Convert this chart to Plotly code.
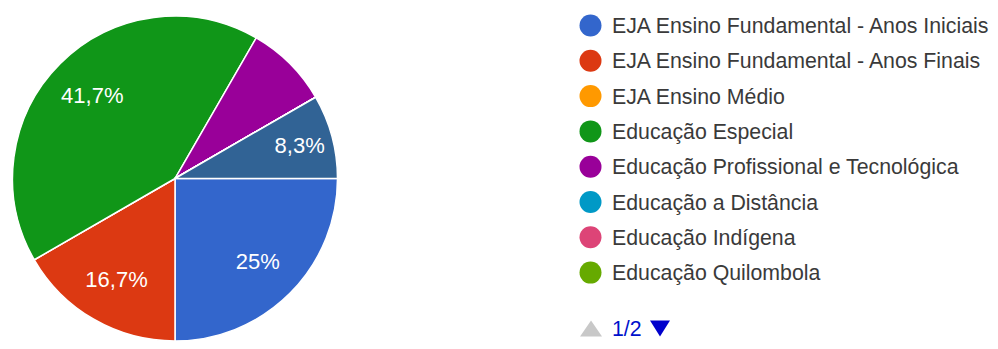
import plotly.graph_objects as go

# ---- data ----
categories = [
    "EJA Ensino Fundamental - Anos Iniciais",
    "EJA Ensino Fundamental - Anos Finais",
    "EJA Ensino Médio",
    "Educação Especial",
    "Educação Profissional e Tecnológica",
    "Educação a Distância",
    "Educação Indígena",
    "Educação Quilombola",
    "Educação do Campo",
    "Outros",
]
counts = [3, 2, 0, 5, 1, 0, 0, 0, 0, 1]
colors = ["#3366cc", "#dc3912", "#ff9900", "#109618", "#990099",
          "#0099c6", "#dd4477", "#66aa00", "#b82e2e", "#316395"]
hidden_label = [False, False, False, False, True, False, False, False, False, False]
legend_page = categories[:8]
pager_text = "1/2"

# the page body has an 8px margin; keep the figure inside the 998x349 window
OFF = 8
W, H = 998 - 2 * OFF, 349 - 2 * OFF
total = sum(counts)
FONT = "Liberation Sans, Arial, sans-serif"


def px(x):
    return (x - OFF) / W


def py(y):
    return 1 - (y - OFF) / H


def fmt(v):
    p = round(v / total * 100, 1)
    s = f"{p:.1f}"
    if s.endswith(".0"):
        s = s[:-2]
    return s.replace(".", ",") + "%"


texts = ["" if (c == 0 or h) else fmt(c) for c, h in zip(counts, hidden_label)]

pcx, pcy, R = 175, 178.5, 162.5
dom = dict(x=[px(pcx - R), px(pcx + R)], y=[py(pcy + R), py(pcy - R)])

fig = go.Figure()
fig.add_trace(go.Pie(
    labels=categories,
    values=counts,
    textinfo="none",
    marker=dict(colors=colors, line=dict(color="white", width=1.5)),
    sort=False,
    direction="clockwise",
    rotation=90,
    showlegend=False,
    hoverinfo="label+percent",
    domain=dom,
))
# transparent ring overlay that carries the percentage labels further out
fig.add_trace(go.Pie(
    labels=categories,
    values=counts,
    text=texts,
    textinfo="text",
    textposition="inside",
    insidetextorientation="horizontal",
    textfont=dict(family=FONT, size=22, color="white"),
    marker=dict(colors=["rgba(0,0,0,0)"] * len(counts), line=dict(width=0)),
    hole=0.44,
    sort=False,
    direction="clockwise",
    rotation=90,
    showlegend=False,
    hoverinfo="skip",
    domain=dom,
))

# ---- manual legend (page 1 of 2) ----
shapes = []
annotations = []
cx = 590.5
r = 11
row0 = 25.5
step = 35.3
for i, name in enumerate(legend_page):
    cy = row0 + i * step
    shapes.append(dict(
        type="circle", xref="paper", yref="paper",
        x0=px(cx - r), x1=px(cx + r),
        y0=py(cy + r), y1=py(cy - r),
        fillcolor=colors[i], line=dict(width=0),
    ))
    annotations.append(dict(
        x=px(610), y=py(cy + 0.5), xref="paper", yref="paper",
        text=name, showarrow=False, xanchor="left", yanchor="middle",
        font=dict(family=FONT, size=21.3, color="#3a3a3a"),
    ))

# pager
pyc = 328.5
ty0, ty1 = 320.5, 336.5
shapes.append(dict(
    type="path", xref="paper", yref="paper",
    path=f"M {px(580)} {py(ty1)} L {px(602)} {py(ty1)} L {px(591)} {py(ty0)} Z",
    fillcolor="#c8c8c8", line=dict(width=0),
))
shapes.append(dict(
    type="path", xref="paper", yref="paper",
    path=f"M {px(650)} {py(ty0)} L {px(670)} {py(ty0)} L {px(660)} {py(ty1)} Z",
    fillcolor="#0000cc", line=dict(width=0),
))
annotations.append(dict(x=px(610), y=py(pyc), xref="paper", yref="paper",
                        text=pager_text, showarrow=False, xanchor="left", yanchor="middle",
                        font=dict(family=FONT, size=21.3, color="#0011cc")))

fig.update_layout(
    width=W, height=H,
    margin=dict(l=0, r=0, t=0, b=0),
    paper_bgcolor="white",
    plot_bgcolor="white",
    shapes=shapes,
    annotations=annotations,
)

fig.write_html("out.html")
